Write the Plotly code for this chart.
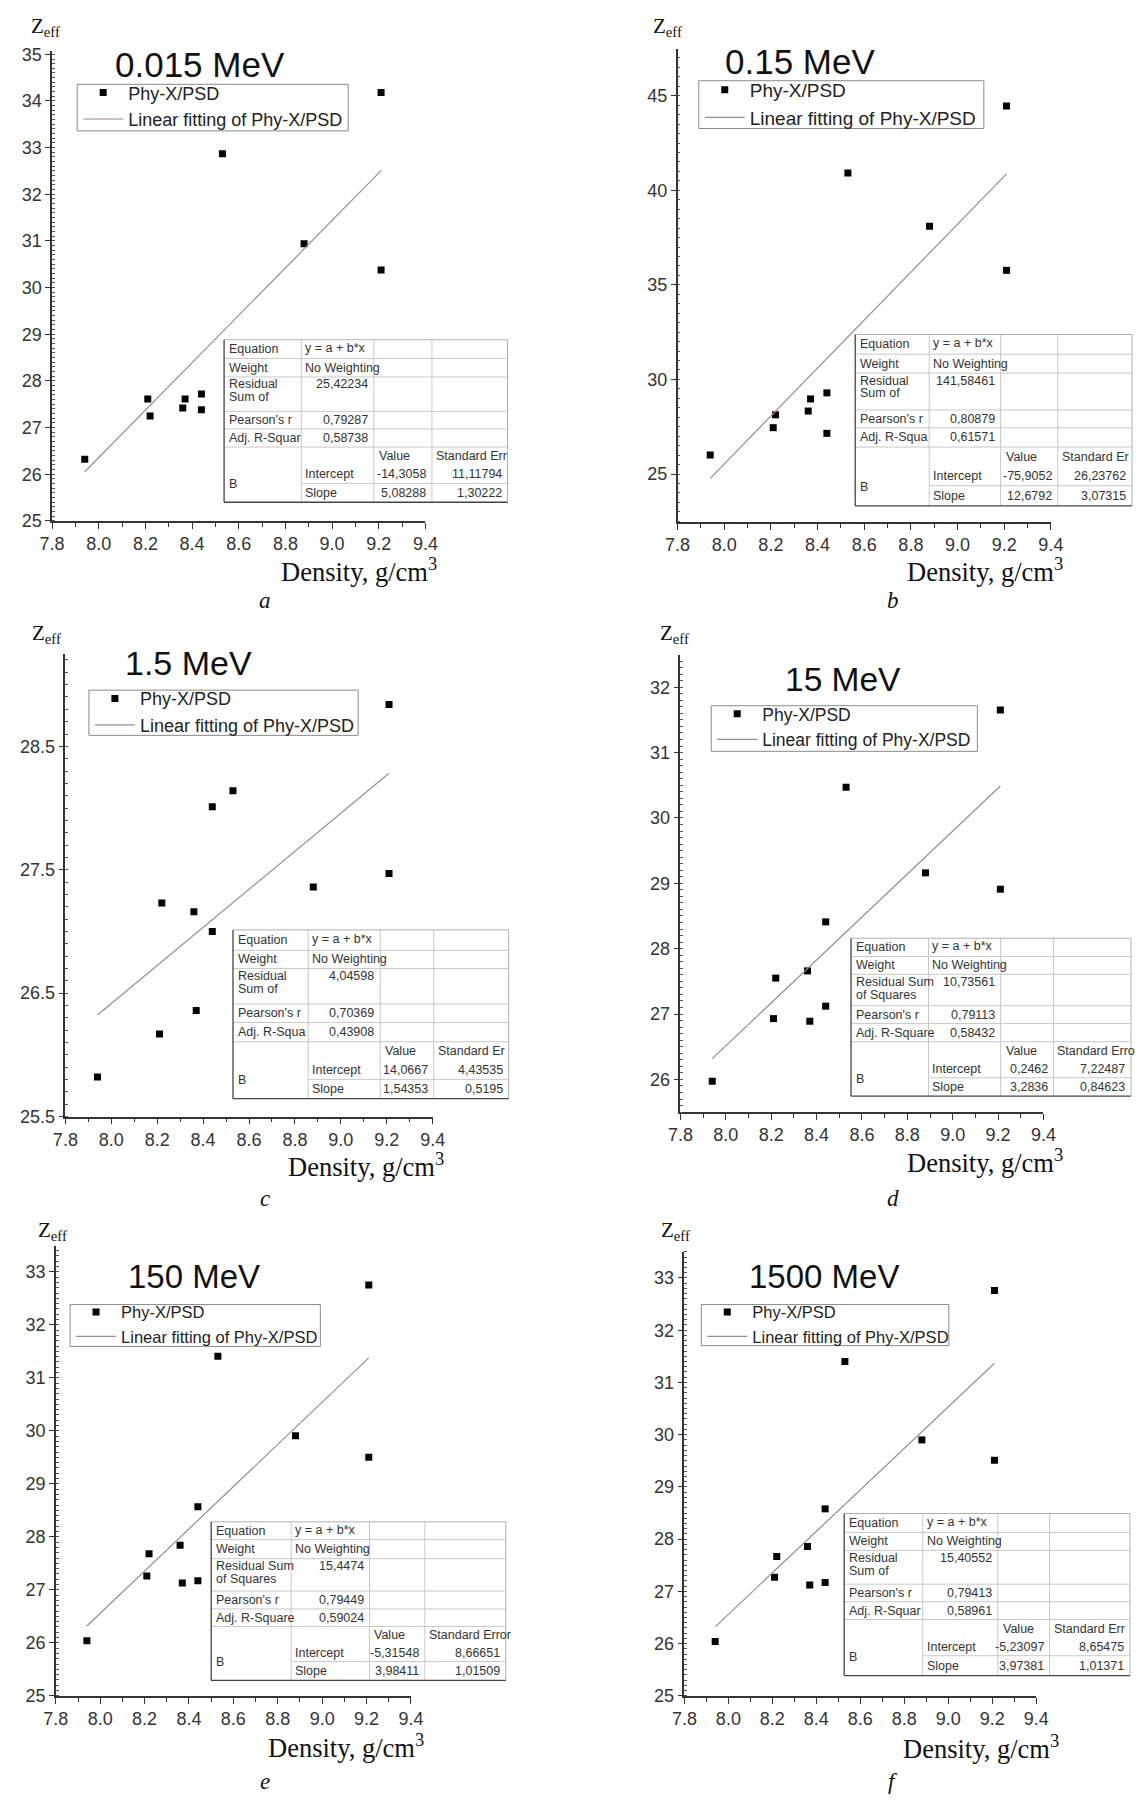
import plotly.graph_objects as go

# ---------------- data ----------------
density = [7.94, 8.21, 8.22, 8.36, 8.37, 8.44, 8.44, 8.53, 8.88, 9.21, 9.21]

zeff_0_015MeV = [26.32, 27.61, 27.25, 27.42, 27.61, 27.72, 27.38, 32.87, 30.94, 34.18, 30.38]
zeff_0_15MeV = [26.00, 27.45, 28.13, 28.33, 28.97, 29.29, 27.15, 40.91, 38.10, 44.46, 35.77]
zeff_1_5MeV = [25.82, 26.17, 27.23, 27.16, 26.36, 28.01, 27.00, 28.14, 27.36, 28.84, 27.47]
zeff_15MeV = [25.97, 26.93, 27.55, 27.66, 26.89, 28.41, 27.12, 30.47, 29.16, 31.65, 28.91]
zeff_150MeV = [26.04, 27.26, 27.68, 27.84, 27.13, 28.57, 27.17, 31.41, 29.91, 32.75, 29.50]
zeff_1500MeV = [26.04, 27.27, 27.67, 27.86, 27.12, 28.58, 27.17, 31.40, 29.90, 32.76, 29.51]

energies = ["0.015 MeV", "0.15 MeV", "1.5 MeV", "15 MeV", "150 MeV", "1500 MeV"]
panel_letters = ["a", "b", "c", "d", "e", "f"]

fit_intercept = [-14.3058, -75.9052, 14.0667, 0.2462, -5.31548, -5.23097]
fit_slope = [5.08288, 12.6792, 1.54353, 3.2836, 3.98411, 3.97381]
intercept_err = [11.11794, 26.23762, 4.43535, 7.22487, 8.66651, 8.65475]
slope_err = [1.30222, 3.07315, 0.5195, 0.84623, 1.01509, 1.01371]
residual_ss = [25.42234, 141.58461, 4.04598, 10.73561, 15.4474, 15.40552]
pearson_r = [0.79287, 0.80879, 0.70369, 0.79113, 0.79449, 0.79413]
adj_r_square = [0.58738, 0.61571, 0.43908, 0.58432, 0.59024, 0.58961]

x_ticks = [7.8, 8.0, 8.2, 8.4, 8.6, 8.8, 9.0, 9.2, 9.4]
y_ticks = [
    [25, 26, 27, 28, 29, 30, 31, 32, 33, 34, 35],
    [25, 30, 35, 40, 45],
    [25.5, 26.5, 27.5, 28.5],
    [26, 27, 28, 29, 30, 31, 32],
    [25, 26, 27, 28, 29, 30, 31, 32, 33],
    [25, 26, 27, 28, 29, 30, 31, 32, 33],
]

# table labels as printed (truncated in the original cells)
rss_label = [["Residual", "Sum of"], ["Residual", "Sum of"], ["Residual", "Sum of"],
             ["Residual Sum", "of Squares"], ["Residual Sum", "of Squares"], ["Residual", "Sum of"]]
adj_label = ["Adj. R-Squar", "Adj. R-Squa", "Adj. R-Squa", "Adj. R-Square", "Adj. R-Square", "Adj. R-Squar"]
err_label = ["Standard Err", "Standard Er", "Standard Er", "Standard Erro", "Standard Error", "Standard Err"]

series = [zeff_0_015MeV, zeff_0_15MeV, zeff_1_5MeV, zeff_15MeV, zeff_150MeV, zeff_1500MeV]

# ---------------- layout geometry (pixels) ----------------
W, H = 1145, 1802

panels = [
    dict(box=(40, 45, 422, 519.5), yr=(25, 35.08), ymin=0.1,
         title=(191, 59, 35), legbox=(65.7, 79, 343, 126), legfs=18,
         cols=[216, 295, 369.3, 428.7, 506],
         rows=[336.7, 355.7, 374.3, 409, 426.7, 445, 463.3, 481.7, 500.7],
         zeff=(16.5, 21), dens=(436, 569), letter=(257.5, 600)),
    dict(box=(680, 43, 1062, 520.5), yr=(22.47, 47.49), ymin=0.5,
         title=(805.4, 56, 35), legbox=(701.7, 75.4, 993.4, 123.6), legfs=19,
         cols=[861.8, 937.5, 1010.6, 1069, 1145],
         rows=[331.4, 351.3, 370.4, 407.6, 425.6, 445, 464.2, 484.1, 504.4],
         zeff=(653, 21), dens=(1076, 569), letter=(900, 600)),
    dict(box=(53.6, 653.6, 429.4, 1120.5), yr=(25.5, 29.25), ymin=0.1,
         title=(179.3, 663, 34), legbox=(77.7, 690.3, 353.2, 735.9), legfs=18,
         cols=[225.1, 302, 375.8, 430.5, 507.1],
         rows=[932.2, 952.8, 971.2, 1006.8, 1025.6, 1045, 1064.2, 1083, 1102.5],
         zeff=(17.5, 634), dens=(443, 1169.5), letter=(257.5, 1203)),
    dict(box=(683, 655, 1054.4, 1116), yr=(25.5, 32.49), ymin=0.1,
         title=(848.9, 680, 33.5), legbox=(714.5, 706, 986.8, 752), legfs=17.5,
         cols=[857.5, 936.8, 1010.6, 1064.7, 1144],
         rows=[940.6, 959, 977, 1008.7, 1026.7, 1045, 1063, 1081.4, 1099.8],
         zeff=(660, 634), dens=(1076, 1165), letter=(900, 1203)),
    dict(box=(43.8, 1251, 407.2, 1705), yr=(25, 33.49), ymin=0.1,
         title=(185.5, 1282, 33), legbox=(58.4, 1310.2, 314.5, 1352.4), legfs=16.5,
         cols=[202.8, 284.6, 364.8, 421.4, 504.2],
         rows=[1529.4, 1547.4, 1566.6, 1599.2, 1617.3, 1635, 1653, 1670.3, 1689.4],
         zeff=(24, 1236), dens=(423, 1756), letter=(257.5, 1791)),
    dict(box=(687, 1257, 1047, 1705), yr=(25, 33.5), ymin=0.1,
         title=(830.2, 1282, 33), legbox=(704.3, 1310.2, 957.6, 1351.6), legfs=16.5,
         cols=[850.5, 930.9, 1007.7, 1060.7, 1142.9],
         rows=[1521, 1540.1, 1558.2, 1592.3, 1610, 1628, 1646.4, 1664.5, 1684.5],
         zeff=(660.5, 1236), dens=(1072, 1757), letter=(900, 1791)),
]


def fx(p):
    return p / W


def fy(p):
    return 1 - p / H


def num(v):
    return str(v).replace(".", ",")


SANS = "Liberation Sans"
SERIF = "Liberation Serif"
AXC = "#333333"
TXT = "#333333"

fig = go.Figure()
layout = dict(width=W, height=H, margin=dict(l=0, r=0, t=0, b=0), autosize=False,
              paper_bgcolor="white", plot_bgcolor="white", showlegend=True)
annotations = []
shapes = []


def hline(xa, xb, y, color, width=1):
    shapes.append(dict(type="line", xref="paper", yref="paper", layer="above",
                       x0=fx(xa), x1=fx(xb), y0=fy(y), y1=fy(y),
                       line=dict(color=color, width=width)))


def vline(x, ya, yb, color, width=1):
    shapes.append(dict(type="line", xref="paper", yref="paper", layer="above",
                       x0=fx(x), x1=fx(x), y0=fy(ya), y1=fy(yb),
                       line=dict(color=color, width=width)))


for i, p in enumerate(panels):
    n = i + 1
    xa = "x" if n == 1 else f"x{n}"
    ya = "y" if n == 1 else f"y{n}"
    lg = "legend" if n == 1 else f"legend{n}"
    x0, y0, x1, y1 = p["box"]

    # data points
    fig.add_trace(go.Scatter(
        x=density, y=series[i], mode="markers", name="Phy-X/PSD",
        marker=dict(symbol="square", size=7, color="black"),
        xaxis=xa, yaxis=ya, legend=lg, showlegend=True))
    # linear fit drawn from the table coefficients
    xf = [min(density), max(density)]
    yf = [fit_intercept[i] + fit_slope[i] * v for v in xf]
    fig.add_trace(go.Scatter(
        x=xf, y=yf, mode="lines", name="Linear fitting of Phy-X/PSD",
        line=dict(color="#a08890", width=1.2),
        xaxis=xa, yaxis=ya, legend=lg, showlegend=True))

    xkey = "xaxis" if n == 1 else f"xaxis{n}"
    ykey = "yaxis" if n == 1 else f"yaxis{n}"
    layout[xkey] = dict(
        domain=[fx(x0), fx(x1)], anchor=ya, range=[7.8, 9.4],
        tickmode="array", tickvals=x_ticks, ticktext=[f"{v:.1f}" for v in x_ticks],
        ticks="outside", ticklen=6, tickwidth=1.2, tickcolor=AXC,
        showline=True, linecolor=AXC, linewidth=1.5, mirror=False,
        showgrid=False, zeroline=False,
        tickfont=dict(family=SANS, size=18, color=AXC),
        minor=dict(tickmode="linear", tick0=7.8, dtick=0.1, ticks="outside",
                   ticklen=4, tickcolor=AXC, showgrid=False))
    layout[ykey] = dict(
        domain=[fy(y1), fy(y0)], anchor=xa, range=list(p["yr"]),
        tickmode="array", tickvals=y_ticks[i], ticktext=[f"{v:g}" for v in y_ticks[i]],
        ticks="outside", ticklen=5, tickwidth=1.2, tickcolor=AXC,
        showline=True, linecolor=AXC, linewidth=1.5, mirror=False,
        showgrid=False, zeroline=False,
        tickfont=dict(family=SANS, size=18, color=AXC),
        minor=dict(tickmode="linear", tick0=y_ticks[i][0], dtick=p["ymin"], ticks="inside",
                   ticklen=3, tickcolor="#555555", showgrid=False))

    # legend: framed box drawn as a shape, legend entries on top of it
    lx0, ly0, lx1, ly1 = p["legbox"]
    shapes.append(dict(type="rect", xref="paper", yref="paper", layer="above",
                       x0=fx(lx0), x1=fx(lx1), y0=fy(ly1), y1=fy(ly0),
                       fillcolor="white", line=dict(color="#8a8a8a", width=1)))
    layout[lg] = dict(x=fx(lx0 + 1), y=fy(ly0 - 10), xanchor="left", yanchor="top",
                      bgcolor="rgba(0,0,0,0)", borderwidth=0,
                      font=dict(family=SANS, size=p["legfs"], color="#222222"),
                      itemwidth=40, tracegroupgap=0, traceorder="normal")

    # energy title
    tx, ty, tfs = p["title"]
    annotations.append(dict(x=fx(tx), y=fy(ty), xref="paper", yref="paper", text=energies[i],
                            showarrow=False, xanchor="center", yanchor="middle",
                            font=dict(family=SANS, size=tfs, color="#111111")))
    # Zeff label
    zx, zy = p["zeff"]
    annotations.append(dict(x=fx(zx), y=fy(zy), xref="paper", yref="paper",
                            text="Z<sub>eff</sub>", showarrow=False,
                            xanchor="left", yanchor="middle",
                            font=dict(family=SERIF, size=21, color="#111111")))
    # density label
    dx, dy = p["dens"]
    annotations.append(dict(x=fx(dx), y=fy(dy), xref="paper", yref="paper",
                            text="Density, g/cm<sup>3</sup>", showarrow=False,
                            xanchor="right", yanchor="middle",
                            font=dict(family=SERIF, size=26.5, color="#111111")))
    # panel letter
    px_, py_ = p["letter"]
    annotations.append(dict(x=fx(px_), y=fy(py_), xref="paper", yref="paper",
                            text=f"<i>{panel_letters[i]}</i>", showarrow=False,
                            xanchor="center", yanchor="middle",
                            font=dict(family=SERIF, size=23, color="#111111")))

    # ---------- fit-result table ----------
    c = p["cols"]
    r = p["rows"]
    shapes.append(dict(type="rect", xref="paper", yref="paper", layer="above",
                       x0=fx(c[0]), x1=fx(c[4]), y0=fy(r[8]), y1=fy(r[0]),
                       fillcolor="white", line=dict(width=0)))
    light = "#c8c8c8"
    for k in [1, 2, 3, 4, 5]:
        hline(c[0], c[4], r[k], light)
    hline(c[1], c[4], r[7], light)
    for k in [1, 2, 3]:
        vline(c[k], r[0], r[8], light)
    hline(c[0], c[4], r[0], "#b0b0b0")
    vline(c[4], r[0], r[8], "#b0b0b0")
    vline(c[0], r[0], r[8], "#444444", 1.3)
    hline(c[0], c[4], r[8], "#444444", 1.3)

    def cell(text, x, y, anchor="left"):
        annotations.append(dict(x=fx(x), y=fy(y), xref="paper", yref="paper", text=text,
                                showarrow=False, xanchor=anchor, yanchor="middle",
                                font=dict(family=SANS, size=12.5, color=TXT)))

    mid = [(r[k] + r[k + 1]) / 2 for k in range(8)]
    cell("Equation", c[0] + 3, mid[0])
    cell("y = a + b*x", c[1] + 2, mid[0] - 1)
    cell("Weight", c[0] + 3, mid[1])
    cell("No Weighting", c[1] + 2, mid[1])
    cell(rss_label[i][0], c[0] + 3, r[2] + 7.5)
    cell(rss_label[i][1], c[0] + 3, r[2] + 20.5)
    cell(num(residual_ss[i]), c[2] - 4, r[2] + 7.5, "right")
    cell("Pearson's r", c[0] + 3, mid[3])
    cell(num(pearson_r[i]), c[2] - 4, mid[3], "right")
    cell(adj_label[i], c[0] + 3, mid[4])
    cell(num(adj_r_square[i]), c[2] - 4, mid[4], "right")
    cell("Value", c[2] + 3, mid[5])
    cell(err_label[i], c[3] + 2, mid[5])
    cell("B", c[0] + 3, r[7] + 1)
    cell("Intercept", c[1] + 2, mid[6])
    cell(num(fit_intercept[i]), c[3] - 4, mid[6], "right")
    cell(num(intercept_err[i]), c[4] - 4, mid[6], "right")
    cell("Slope", c[1] + 2, mid[7])
    cell(num(fit_slope[i]), c[3] - 4, mid[7], "right")
    cell(num(slope_err[i]), c[4] - 4, mid[7], "right")

layout["annotations"] = annotations
layout["shapes"] = shapes
fig.update_layout(**layout)
fig.write_html("out.html", config={"displayModeBar": False},
               post_script="document.body.style.margin='0px';")
